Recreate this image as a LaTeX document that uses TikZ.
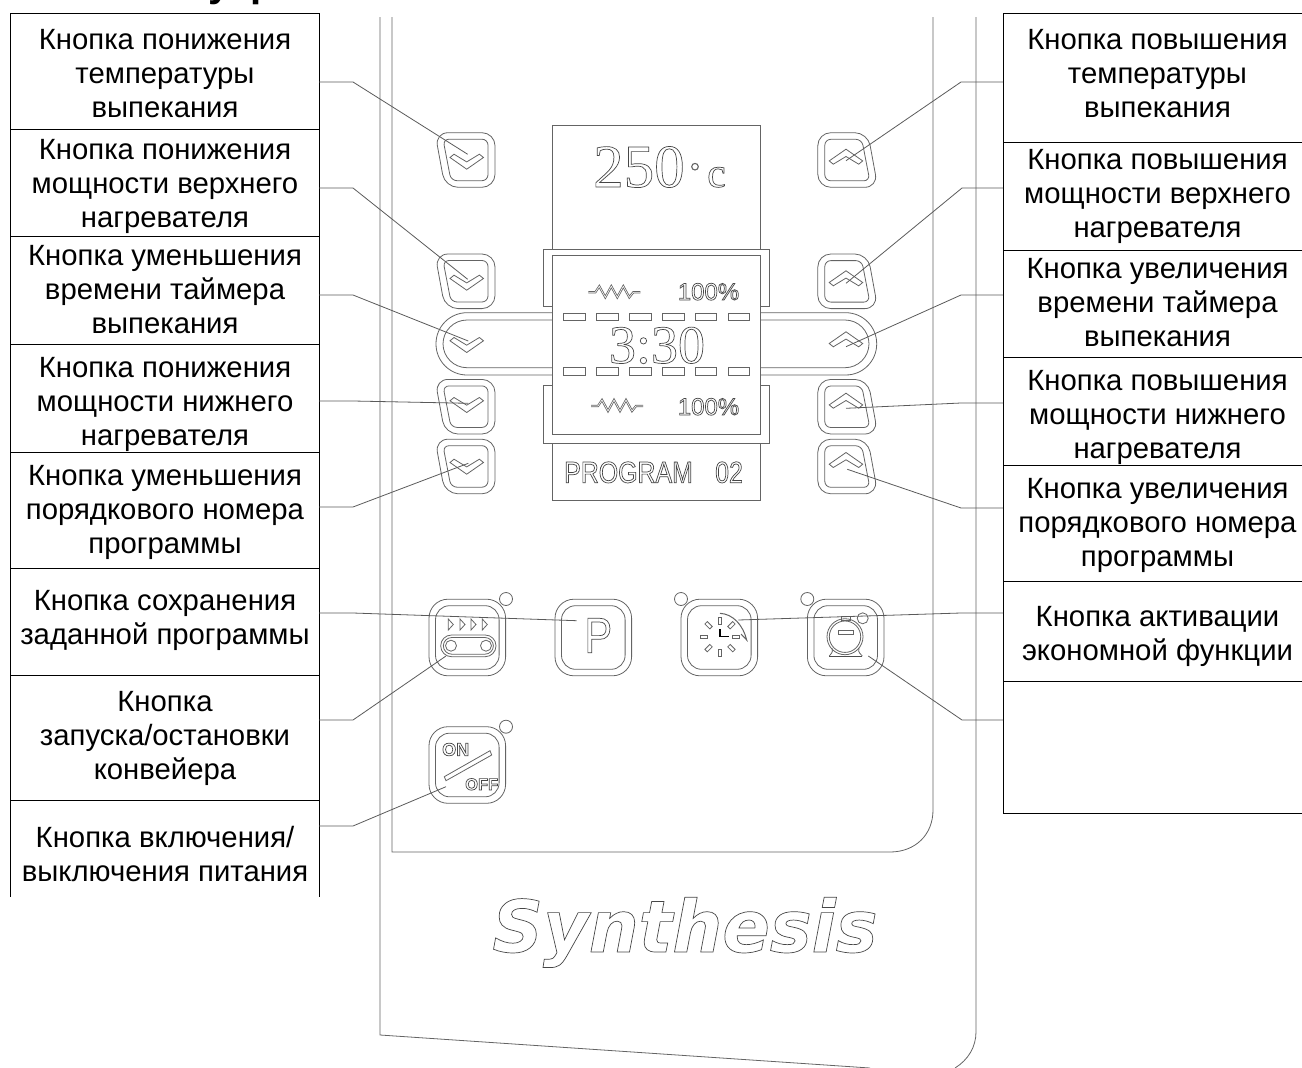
\documentclass[tikz,border=0pt]{standalone}
\usepackage{fontspec}
\setmainfont{Liberation Sans}
\newfontfamily\lcdserif{Liberation Serif}
\newfontfamily\lcdnarrow[FakeStretch=0.83]{Liberation Sans}
\newfontfamily\logofont[FakeStretch=0.975]{DejaVu Sans Bold Oblique}
\usetikzlibrary{calc}
\definecolor{panelgray}{RGB}{100,100,100}
\definecolor{leadgray}{RGB}{90,90,90}
\definecolor{lcdink}{RGB}{70,70,70}
\newcommand{\outl}[1]{\special{pdf:code 1 Tr .7 w}#1\special{pdf:code 0 Tr}}
\newcommand{\fs}[1]{\fontsize{#1}{#1}\selectfont}
\tikzset{
  arrowbtn/.pic={
    \draw[btn, rounded corners=13pt] (-30,-27.3) -- (30,-27.3) -- (30,27.3) -- (-20,27.3) -- cycle;
    \draw[btn, rounded corners=6pt] (-22,-20.8) -- (23,-20.8) -- (23,20.7) -- (-14,20.7) -- cycle;
  },
  chevron/.pic={
    \draw[btn] (-16.7,-4.2) -- (-12.7,-7.5) -- (0,0.2) -- (12.7,-7.5) -- (16.8,-4.2) -- (0,7.5) -- cycle;
  },
  squarebtn/.pic={
    \draw[btn, rounded corners=19pt] (-38.3,-38.3) rectangle (38.3,38.3);
    \draw[btn, rounded corners=14pt] (-31.8,-31.8) rectangle (31.8,31.8);
  }
}

\begin{document}
\begin{tikzpicture}[x=1pt, y=-1pt,
    cell/.style={rectangle, draw=black, line width=0.9pt, anchor=north west, inner sep=0pt, outer sep=0pt},
    lcell/.style={cell, minimum width=308.5pt},
    rcell/.style={cell, minimum width=310pt},
    celltext/.style={align=center, inner sep=0pt, font=\fontsize{29.3}{34}\selectfont},
    panel/.style={draw=panelgray, line width=0.8pt},
    btn/.style={draw=panelgray, line width=0.8pt},
    lcdbox/.style={draw=panelgray, line width=0.9pt, fill=white},
    lcdtext/.style={inner sep=0pt, text=lcdink},
    leader/.style={draw=leadgray, line width=0.8pt}
]
\useasboundingbox (0,0) rectangle (1302,1068);

% heading cut off by the page edge
\node[inner sep=0pt, anchor=base west, font=\bfseries\fs{40}] (headone) at (208,-3.5) {у};
\node[inner sep=0pt, anchor=base west, font=\bfseries\fs{40}] (headtwo) at (250,-3.5) {р};

% front panel
\draw[panel] (380,17) -- (380,1035) -- (870,1068);
\draw[panel] (976,17) -- (976,1032) .. controls (976,1047) and (968,1060) .. (955,1068);
\draw[panel] (392,17) -- (392,852) -- (890,852) .. controls (915,852) and (933,835) .. (933,810) -- (933,17);
\node[inner sep=0pt, text=lcdink, anchor=base] (logo) at (685,952) {\logofont\fs{72}\outl{Synthesis}};

% arrow buttons
\pic at (465,160) {arrowbtn};
\pic at (465,281.3) {arrowbtn};
\pic at (465,406.7) {arrowbtn};
\pic at (465,466.5) {arrowbtn};
\pic[rotate=180] at (847.8,160) {arrowbtn};
\pic[rotate=180] at (847.8,281.3) {arrowbtn};
\pic[rotate=180] at (847.8,406.7) {arrowbtn};
\pic[rotate=180] at (847.8,466.5) {arrowbtn};
\draw[btn, rounded corners=31pt] (436,312.7) rectangle (876.7,375);
\draw[btn, rounded corners=24pt] (443,320) rectangle (869,367.7);
\foreach \y in {161.7,282.7,345,405,466.7} {
  \pic at (466.7,\y) {chevron};
}
\foreach \y in {156.7,278.3,339.3,400.7,460} {
  \pic[rotate=180] at (846,\y) {chevron};
}

% display
\draw[lcdbox] (552.3,125) rectangle (760.7,500);
\draw[lcdbox] (543.7,249) rectangle (769.3,306.7);
\draw[lcdbox] (543.7,385) rectangle (769.3,443);
\draw[lcdbox] (552.3,255.3) rectangle (760.7,434);
\foreach \i in {0,...,5} {
  \draw[btn] ({563.7+32.9*\i},313) rectangle ++(21.5,7.3);
  \draw[btn] ({563.7+32.9*\i},367.3) rectangle ++(21.5,7.7);
}
\node[lcdtext, anchor=base west] (temp) at (593,187) {\lcdserif\fs{61}\outl{250}};
\draw[btn, line width=1.1pt] (695,166.7) circle (3.3pt);
\node[lcdtext, anchor=base west] (tempunit) at (707,187) {\lcdserif\fs{42}\outl{c}};
\node[lcdtext, anchor=base] (timer) at (657,363) {\lcdserif\fs{54}\outl{3:30}};
\node[lcdtext, anchor=base] (toppct) at (708.5,300) {\fs{24}\outl{100\%}};
\node[lcdtext, anchor=base] (botpct) at (708.5,415) {\fs{24}\outl{100\%}};
\node[lcdtext, anchor=base west] (prog) at (564,482.7) {\lcdnarrow\fs{30}\outl{PROGRAM}};
\node[lcdtext, anchor=base west] (prognum) at (715,482.7) {\lcdnarrow\fs{30}\outl{02}};
\draw[btn, double, double distance=0.6pt] (588.3,292.3) -- ++(7,0) -- ++(4,-6) -- ++(6,11) -- ++(6,-11) -- ++(6,11) -- ++(6,-11) -- ++(6,11) -- ++(4,-5) -- ++(7,0);
\draw[btn, double, double distance=0.6pt] (591,406) -- ++(7,0) -- ++(4,-6) -- ++(6,11) -- ++(6,-11) -- ++(6,11) -- ++(6,-11) -- ++(6,11) -- ++(4,-5) -- ++(7,0);

% square buttons
\pic at (467.3,637.5) {squarebtn};
\pic at (593.3,637.5) {squarebtn};
\pic at (719.3,637.5) {squarebtn};
\pic at (845.7,637.5) {squarebtn};
\pic at (467.3,765) {squarebtn};
\draw[btn] (506,599) circle (6.5pt);
\draw[btn] (681,599) circle (6.5pt);
\draw[btn] (807.3,599) circle (6.5pt);
\draw[btn] (506,726.7) circle (6.5pt);
% conveyor icon
\foreach \x in {448.3,460,471,482.3} {
  \draw[btn] (\x,619) -- ++(5,5.5) -- ++(-5,5.5) -- cycle;
}
\draw[btn, rounded corners=10.8pt] (440.7,635) rectangle (496,656.7);
\draw[btn, rounded corners=8.5pt] (443.3,637.5) rectangle (493.4,654.2);
\draw[btn] (451,645.7) circle (5.5pt);
\draw[btn] (486,645.7) circle (5.5pt);
\node[lcdtext, anchor=base] (pkey) at (598.3,652.7) {\lcdnarrow\fs{50}\outl{P}};
% clock icon
\foreach \a in {0,45,...,315} {
  \draw[btn, rotate around={\a:(720,636.7)}] (718.3,617) rectangle (721.7,624);
}
\draw[black, line width=1.1pt] (720,629.3) -- (720,636.7) -- (729.3,636.7);
\draw[btn, line width=1pt] (720,613.3) .. controls (733,614) and (743,625) .. (746.7,640) -- (741,634);
% economy icon
\draw[btn] (845,636.7) circle (18pt);
\draw[btn] (845,636.7) circle (15.7pt);
\draw[btn] (841.7,616.7) rectangle (850.7,620);
\draw[btn] (838.3,630) rectangle (853.3,634);
\draw[btn] (862.7,618.3) circle (5.5pt);
\draw[black!70, line width=1.1pt] (829.3,656.5) -- (862.3,656.5);
\draw[btn] (829.3,656) .. controls (833,652) and (833,650) .. (832,648);
\draw[btn] (862.3,656) .. controls (858,652) and (858,650) .. (859,648);
% power icon
\node[lcdtext, anchor=base west] (onlabel) at (442,755.7) {\bfseries\fs{18}\outl{ON}};
\node[lcdtext, anchor=base west] (offlabel) at (465,790) {\bfseries\fs{16.5}\outl{OFF}};
\draw[btn] (444.3,776.7) -- (490,750.7) -- (491.7,755) -- (446,780.7) -- cycle;

% leader ends
\coordinate (dntemp) at (467.7,154.3);
\coordinate (dnupper) at (467.7,279.3);
\coordinate (dntimer) at (468.3,341);
\coordinate (dnlower) at (468.3,403.3);
\coordinate (dnprog) at (468.3,463.3);
\coordinate (savekey) at (576.7,620.7);
\coordinate (beltkey) at (446,656);
\coordinate (powerkey) at (446,786.7);
\coordinate (uptemp) at (846,160.7);
\coordinate (upupper) at (846,283.3);
\coordinate (uptimer) at (846,346.7);
\coordinate (uplower) at (846,408.3);
\coordinate (upprog) at (847.3,469.3);
\coordinate (ecokey) at (738.3,620);
\coordinate (spare) at (868.3,656);

% left column
\node[lcell, minimum height=116pt] (ltemp) at (10.5,13) {};
\node[lcell, minimum height=107pt] (lupper) at (10.5,129) {};
\node[lcell, minimum height=108pt] (ltimer) at (10.5,236) {};
\node[lcell, minimum height=108pt] (llower) at (10.5,344) {};
\node[lcell, minimum height=116pt] (lprog) at (10.5,452) {};
\node[lcell, minimum height=107pt] (lsave) at (10.5,568) {};
\node[lcell, minimum height=125pt] (lbelt) at (10.5,675) {};
\node[cell, draw=none, minimum width=308.5pt, minimum height=97pt] (lpower) at (10.5,800) {};
\draw[black, line width=0.9pt] (lpower.north west) -- (lpower.south west);
\draw[black, line width=0.9pt] (lpower.north east) -- (lpower.south east);
\node[celltext] (ltemptext) at (165,73.5) {Кнопка понижения\\температуры\\выпекания};
\node[celltext] (luppertext) at (165,186.5) {Кнопка понижения\\мощности верхнего\\нагревателя};
\node[celltext] (ltimertext) at (165,289.5) {Кнопка уменьшения\\времени таймера\\выпекания};
\node[celltext] (llowertext) at (165,404) {Кнопка понижения\\мощности нижнего\\нагревателя};
\node[celltext] (lprogtext) at (165,512) {Кнопка уменьшения\\порядкового номера\\программы};
\node[celltext] (lsavetext) at (165,620) {Кнопка сохранения\\заданной программы};
\node[celltext] (lbelttext) at (165,738) {Кнопка\\запуска/остановки\\конвейера};
\node[celltext] (lpowertext) at (165,854) {Кнопка включения/\\выключения питания};

% right column
\node[rcell, minimum height=129pt] (rtemp) at (1003,13) {};
\node[rcell, minimum height=108pt] (rupper) at (1003,142) {};
\node[rcell, minimum height=107pt] (rtimer) at (1003,250) {};
\node[rcell, minimum height=108pt] (rlower) at (1003,357) {};
\node[rcell, minimum height=116pt] (rprog) at (1003,465) {};
\node[rcell, minimum height=100pt] (reco) at (1003,581) {};
\node[rcell, minimum height=132pt] (rspare) at (1003,681) {};
\node[celltext] (rtemptext) at (1157.5,73.5) {Кнопка повышения\\температуры\\выпекания};
\node[celltext] (ruppertext) at (1157.5,196) {Кнопка повышения\\мощности верхнего\\нагревателя};
\node[celltext] (rtimertext) at (1157.5,302.5) {Кнопка увеличения\\времени таймера\\выпекания};
\node[celltext] (rlowertext) at (1157.5,417) {Кнопка повышения\\мощности нижнего\\нагревателя};
\node[celltext] (rprogtext) at (1157.5,525) {Кнопка увеличения\\порядкового номера\\программы};
\node[celltext] (recotext) at (1157.5,636) {Кнопка активации\\экономной функции};

% leaders
\draw[leader] (ltemp.east |- 0,82) -- ++(34,0) -- (dntemp);
\draw[leader] (lupper.east |- 0,188) -- ++(34,0) -- (dnupper);
\draw[leader] (ltimer.east |- 0,295) -- ++(34,0) -- (dntimer);
\draw[leader] (llower.east |- 0,401) -- ++(34,0) -- (dnlower);
\draw[leader] (lprog.east |- 0,507) -- ++(34,0) -- (dnprog);
\draw[leader] (lsave.east |- 0,613) -- ++(34,0) -- (savekey);
\draw[leader] (lbelt.east |- 0,720) -- ++(34,0) -- (beltkey);
\draw[leader] (lpower.east |- 0,826) -- ++(34,0) -- (powerkey);
\draw[leader] (rtemp.west |- 0,82) -- ++(-42,0) -- (uptemp);
\draw[leader] (rupper.west |- 0,188) -- ++(-41,0) -- (upupper);
\draw[leader] (rtimer.west |- 0,295) -- ++(-42,0) -- (uptimer);
\draw[leader] (rlower.west |- 0,403) -- ++(-42,0) -- (uplower);
\draw[leader] (rprog.west |- 0,508) -- ++(-42,0) -- (upprog);
\draw[leader] (reco.west |- 0,613) -- ++(-42,0) -- (ecokey);
\draw[leader] (rspare.west |- 0,720) -- ++(-41,0) -- (spare);
\end{tikzpicture}
\end{document}
